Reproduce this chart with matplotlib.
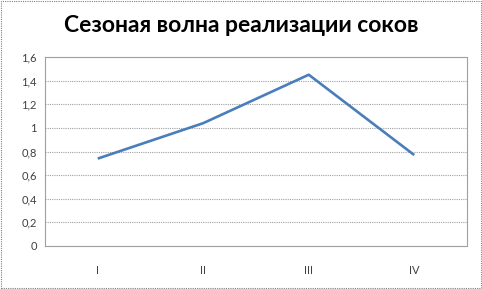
"""Seasonal wave of juice sales, drawn as a single line chart."""

import matplotlib

matplotlib.use("Agg")
import matplotlib.pyplot as plt
from matplotlib.patches import Rectangle
from matplotlib.ticker import FuncFormatter, MultipleLocator

quarters = ["I", "II", "III", "IV"]
sales_index = [0.74, 1.04, 1.45, 0.77]
title_text = "Сезоная волна реализации соков"

plt.rcParams["font.family"] = ["Lato", "DejaVu Sans"]

fig = plt.figure(figsize=(4.82, 2.89), dpi=100)
ax = fig.add_axes([45 / 482, 1 - 246 / 289, 422 / 482, 189 / 289])

x = range(len(quarters))
ax.plot(x, sales_index, color="#4A7EBB", linewidth=1.9, solid_capstyle="butt")

ax.set_xlim(-0.5, len(quarters) - 0.5)
ax.set_ylim(0, 1.6)
ax.yaxis.set_major_locator(MultipleLocator(0.2))
ax.yaxis.set_major_formatter(
    FuncFormatter(lambda v, _: f"{v:.1f}".rstrip("0").rstrip(".").replace(".", ","))
)
ax.set_xticks(list(x))
ax.set_xticklabels(quarters)
ax.tick_params(length=0, labelsize=8, colors="#404040", pad=6)
ax.tick_params(axis="x", pad=14)

ax.grid(axis="y", color="#A0A0A0", linestyle=(0, (1, 1)), linewidth=0.8)
ax.set_axisbelow(True)
for side in ["top", "right", "bottom", "left"]:
    ax.spines[side].set_color("#A0A0A0")
    ax.spines[side].set_linestyle((0, (1, 1)))
    ax.spines[side].set_linewidth(0.8)

fig.text(0.5, 1 - 25 / 289, title_text, ha="center", va="center",
         fontsize=16.5, fontweight="bold", color="black")

# dotted frame round the whole chart
fig.patches.append(Rectangle((0.002, 0.003), 0.995, 0.993, transform=fig.transFigure,
                             fill=False, edgecolor="#808080", linewidth=0.8,
                             linestyle=(0, (1, 1))))

fig.savefig("out.png", dpi=100, facecolor="white")
